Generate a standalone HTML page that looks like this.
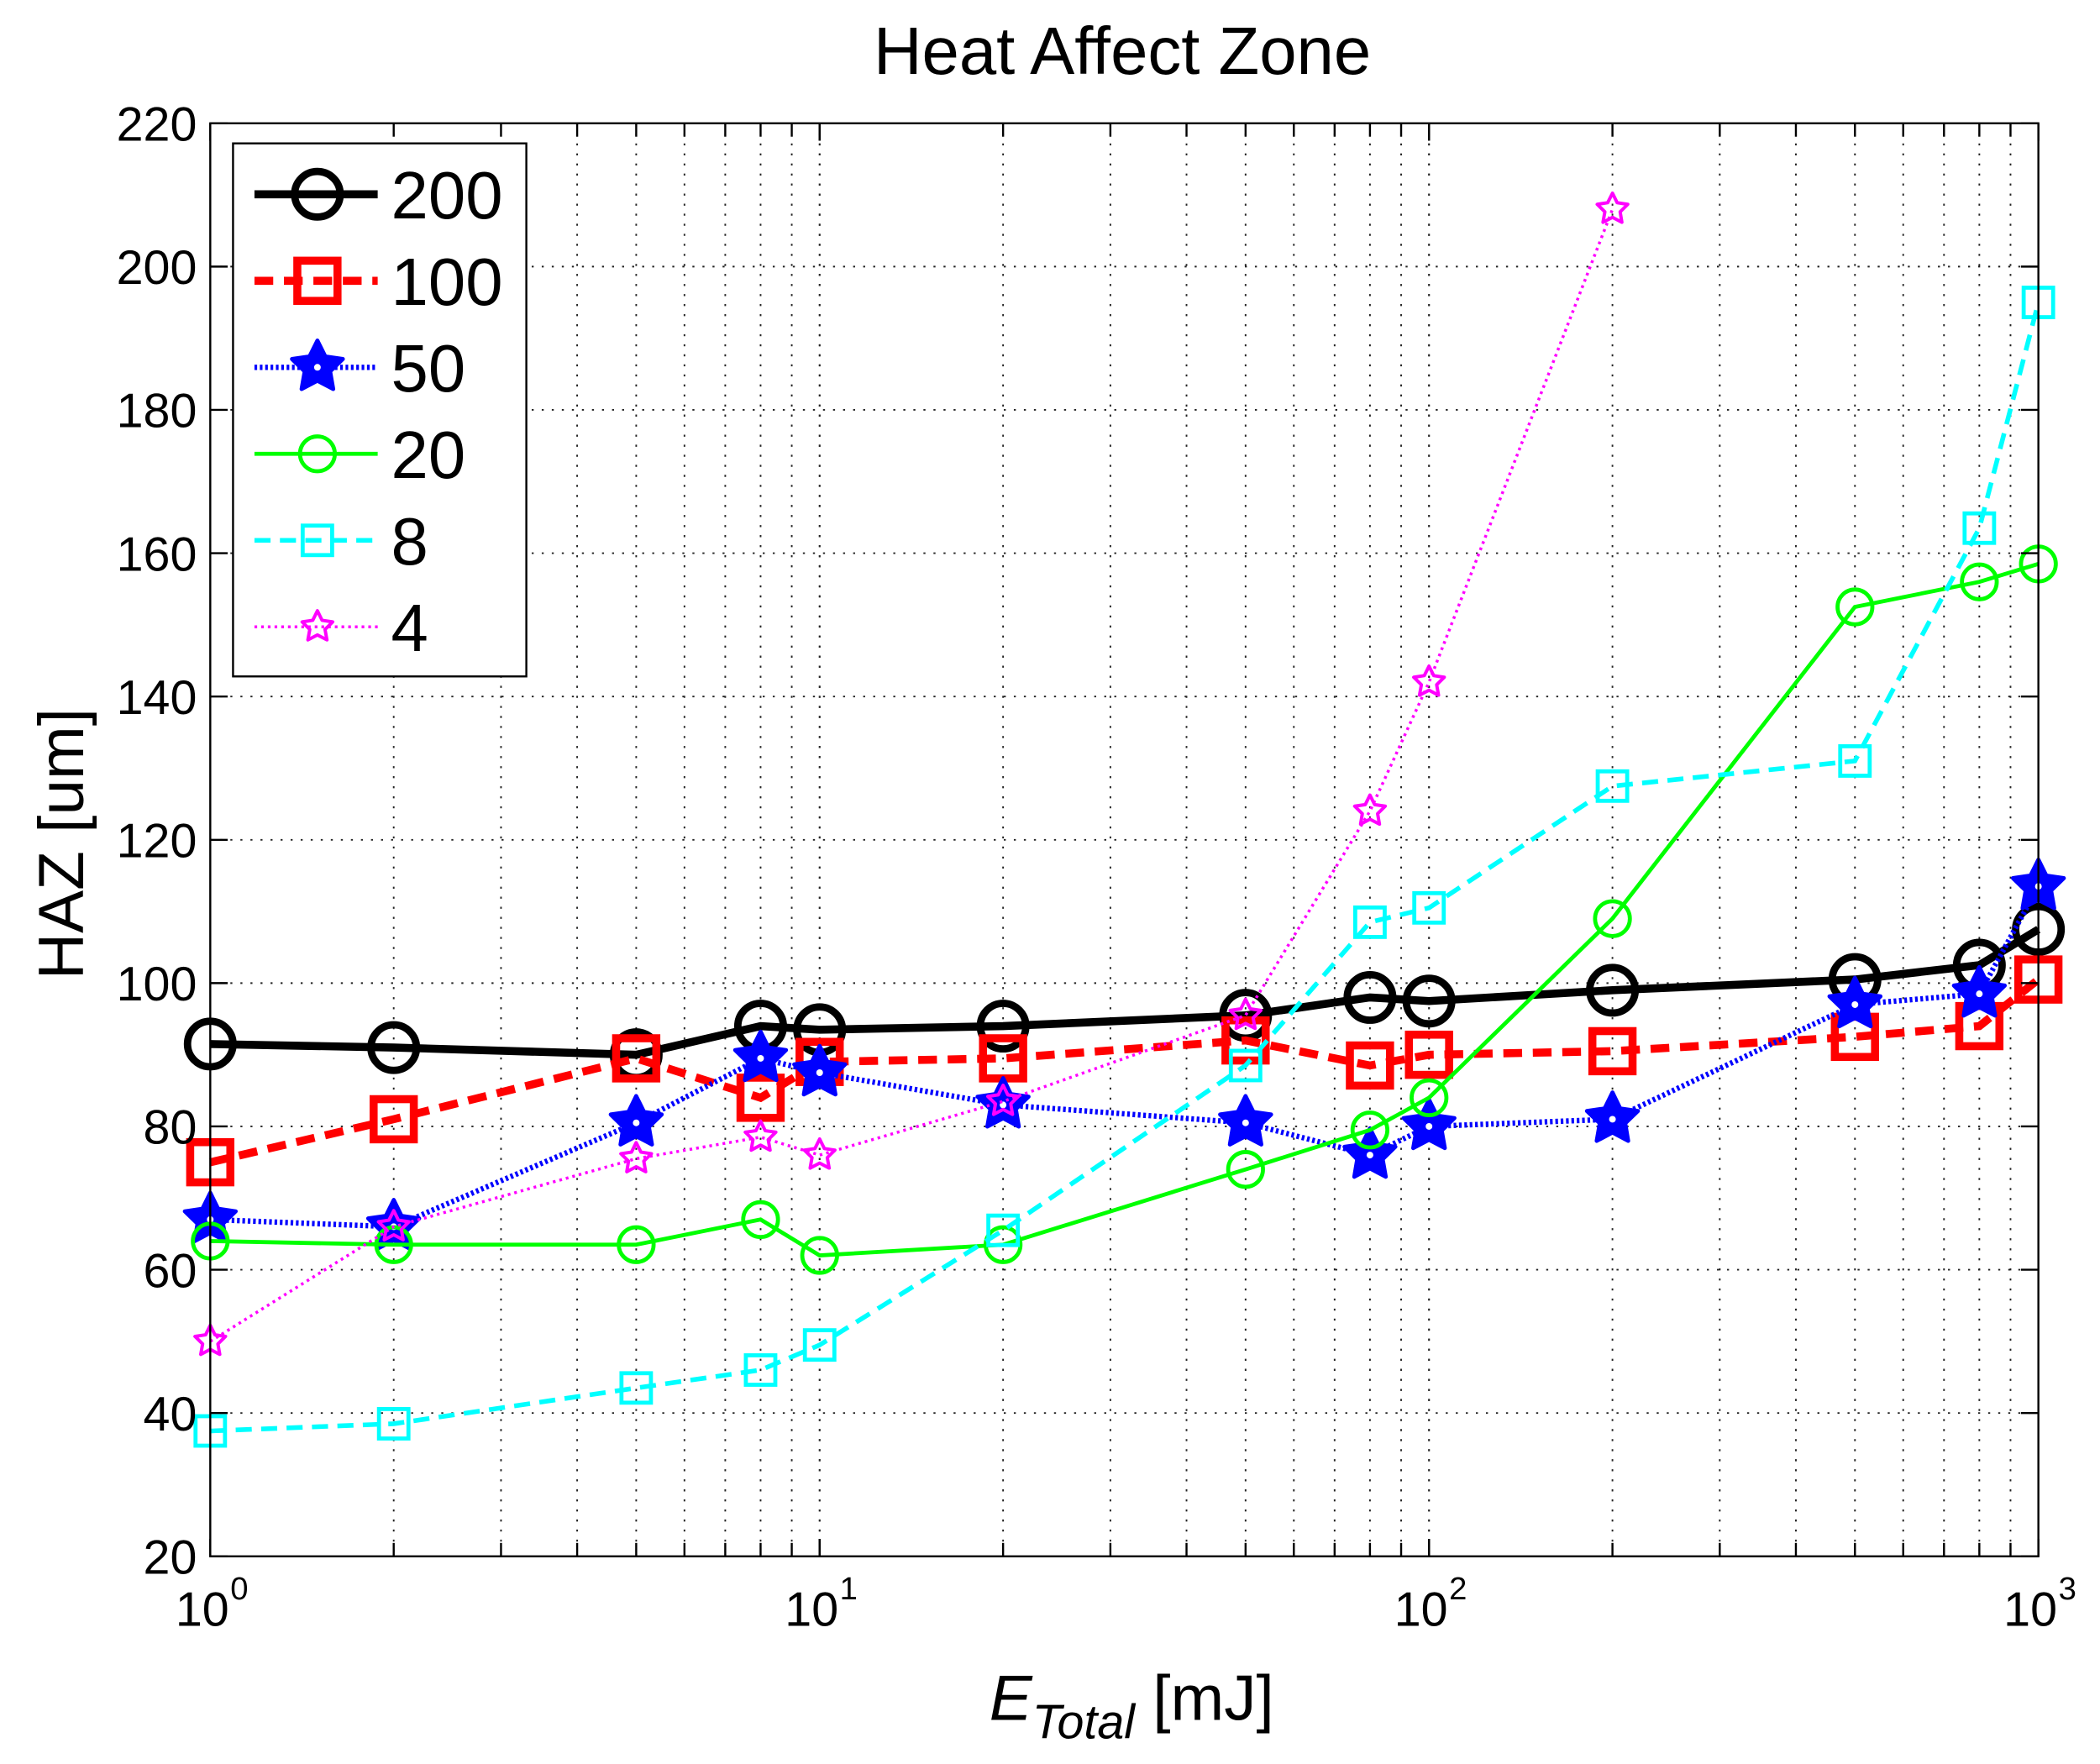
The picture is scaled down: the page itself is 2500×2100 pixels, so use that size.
<!DOCTYPE html>
<html><head><meta charset="utf-8"><style>html,body{margin:0;padding:0;background:#fff}svg{display:block}</style></head>
<body>
<svg id="s" xmlns="http://www.w3.org/2000/svg" width="2500" height="2100" viewBox="0 0 1568 1317" font-family="Liberation Sans, Arial, sans-serif">
<rect width="1568" height="1317" fill="#fff"/>
<g id="grid"></g>
<g id="data"></g>
<rect x="157" y="92" width="1365" height="1070" fill="none" stroke="#000" stroke-width="1.5"/>
<g id="ticks"></g>
<text x="838" y="55" font-size="50" text-anchor="middle">Heat Affect Zone</text>
<text transform="translate(62,630) rotate(-90)" font-size="48" text-anchor="middle">HAZ [um]</text>
<text x="845" y="1284" font-size="48" text-anchor="middle"><tspan font-style="italic">E</tspan><tspan font-style="italic" font-size="36" dy="14">Total</tspan><tspan dy="-14"> [mJ]</tspan></text>
<g id="legend">
<rect x="174" y="107" width="219" height="398" fill="#fff" stroke="#000" stroke-width="1.5"/>
</g>
</svg>
<script>
const NS="http://www.w3.org/2000/svg";
const X=v=>157+455*Math.log10(v), Y=v=>92+(220-v)*5.35;
function el(p,t,a){const e=document.createElementNS(NS,t);for(const k in a)if(k!=='txt')e.setAttribute(k,a[k]);if(a.txt!==undefined)e.textContent=a.txt;document.getElementById(p).appendChild(e);return e;}
for(let v=40;v<=200;v+=20)el('grid','line',{x1:157,x2:1522,y1:Y(v),y2:Y(v),stroke:'#222','stroke-width':1.2,'stroke-dasharray':'1.5 6'});
for(let d=0;d<3;d++)for(let m=1;m<=10;m++){if(m===1&&d===0)continue;if(m===10&&d===2)continue;const x=X(m*Math.pow(10,d));el('grid','line',{x1:x,x2:x,y1:92,y2:1162,stroke:'#222','stroke-width':1.2,'stroke-dasharray':'1.5 6'});}
for(let v=20;v<=220;v+=20){const y=Y(v);el('ticks','line',{x1:157,x2:170,y1:y,y2:y,stroke:'#000','stroke-width':1.5});el('ticks','line',{x1:1509,x2:1522,y1:y,y2:y,stroke:'#000','stroke-width':1.5});el('ticks','text',{x:147,y:y+13,'font-size':36,'text-anchor':'end',txt:v});}
for(let d=0;d<3;d++)for(let m=1;m<=10;m++){const x=X(m*Math.pow(10,d));const L=(m===1||m===10)?13:10;el('ticks','line',{x1:x,x2:x,y1:1162,y2:1162-L,stroke:'#000','stroke-width':1.5});el('ticks','line',{x1:x,x2:x,y1:92,y2:92+L,stroke:'#000','stroke-width':1.5});}
for(let d=0;d<=3;d++){const x=X(Math.pow(10,d));el('ticks','text',{x:x-6,y:1214,'font-size':36,'text-anchor':'middle',txt:'10'});el('ticks','text',{x:x+15,y:1194,'font-size':24,txt:d});}
const xs=[1,2,5,8,10,20,50,80,100,200,500,800,1000];
const S=[
{n:'200',c:'#000',w:6,da:'',m:'o',r:17,sw:5.5,d:[91.5,91,90,94,93.5,94,95.5,98,97.5,99,100.5,102.5,107.5]},
{n:'100',c:'#f00',w:6,da:'14 8',m:'s',r:15,sw:6,d:[75,81,89.5,84,89,89.5,92,88.5,90,90.5,92.5,94,100.5]},
{n:'50',c:'#00f',w:4,da:'2 2',m:'p',r:20,sw:3,d:[67,66,80.5,89.5,87.5,83,80.5,76,80,81,97,98.5,113.5]},
{n:'20',c:'#0f0',w:3,da:'',m:'o',r:13,sw:3,d:[64,63.5,63.5,67,62,63.5,74,79.5,84,109,152.5,156,158.5]},
{n:'8',c:'#0ff',w:3.5,da:'12 7',m:'s',r:11,sw:3,d:[37.5,38.5,43.5,46,49.5,65.5,88.5,108.5,110.5,127.5,131,163.5,195]},
{n:'4',c:'#f0f',w:2.2,da:'2 3',m:'p',r:12,sw:2.5,d:[50,66,75.5,78.5,76,83.5,95.5,124,142,208]}
];
function star(cx,cy,r){let p=[];for(let i=0;i<10;i++){const a=-Math.PI/2+i*Math.PI/5,rr=i%2?r*0.5:r;p.push((cx+rr*Math.cos(a)).toFixed(1)+','+(cy+rr*Math.sin(a)).toFixed(1));}return p.join(' ');}
function marker(g,s,cx,cy){
 if(s.m==='o')el(g,'circle',{cx,cy,r:s.r,fill:'none',stroke:s.c,'stroke-width':s.sw});
 else if(s.m==='s')el(g,'rect',{x:cx-s.r,y:cy-s.r,width:2*s.r,height:2*s.r,fill:'none',stroke:s.c,'stroke-width':s.sw});
 else {const big=s.n==='50';el(g,'polygon',{points:star(cx,cy,s.r),fill:big?s.c:'none',stroke:s.c,'stroke-width':s.sw,'stroke-linejoin':'round'});if(big)el(g,'circle',{cx,cy,r:2.5,fill:'#fff'});}
}
S.forEach(s=>{const pts=s.d.map((v,i)=>X(xs[i]).toFixed(1)+','+Y(v).toFixed(1)).join(' ');
 el('data','polyline',{points:pts,fill:'none',stroke:s.c,'stroke-width':s.w,'stroke-dasharray':s.da});
 s.d.forEach((v,i)=>marker('data',s,X(xs[i]),Y(v)));});
S.forEach((s,i)=>{const y=145+i*64.6;
 el('legend','line',{x1:190,x2:282,y1:y,y2:y,stroke:s.c,'stroke-width':s.w,'stroke-dasharray':s.da});
 marker('legend',s,237,y);
 el('legend','text',{x:292,y:y+18,'font-size':50,txt:s.n});});
</script>
</body></html>
